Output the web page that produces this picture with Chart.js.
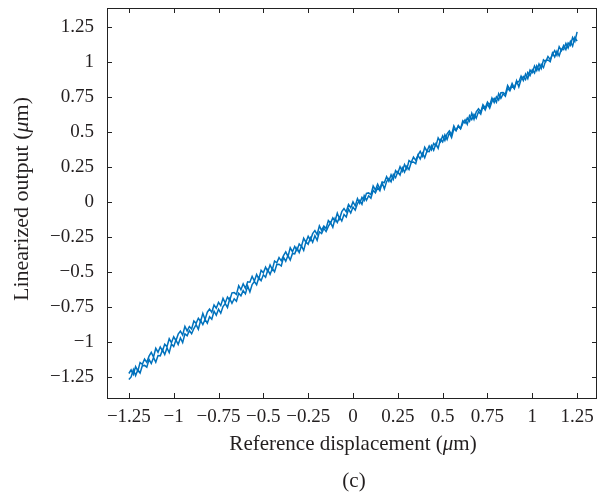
<!DOCTYPE html>
<html>
<head>
<meta charset="utf-8">
<script src="https://cdn.jsdelivr.net/npm/chart.js@4.4.1/dist/chart.umd.min.js"></script>
<style>
  html, body { margin: 0; padding: 0; background: #fff; }
</style>
</head>
<body>
<canvas id="c" width="599" height="496"></canvas>
<script>
// reference displacement (um), shared by both sweeps
const refDisp = [
  -1.25, -1.2375, -1.225, -1.2125, -1.2, -1.1875, -1.175, -1.1625,
  -1.15, -1.1375, -1.125, -1.1125, -1.1, -1.0875, -1.075, -1.0625,
  -1.05, -1.0375, -1.025, -1.0125, -1, -0.9875, -0.975, -0.9625,
  -0.95, -0.9375, -0.925, -0.9125, -0.9, -0.8875, -0.875, -0.8625,
  -0.85, -0.8375, -0.825, -0.8125, -0.8, -0.7875, -0.775, -0.7625,
  -0.75, -0.7375, -0.725, -0.7125, -0.7, -0.6875, -0.675, -0.6625,
  -0.65, -0.6375, -0.625, -0.6125, -0.6, -0.5875, -0.575, -0.5625,
  -0.55, -0.5375, -0.525, -0.5125, -0.5, -0.4875, -0.475, -0.4625,
  -0.45, -0.4375, -0.425, -0.4125, -0.4, -0.3875, -0.375, -0.3625,
  -0.35, -0.3375, -0.325, -0.3125, -0.3, -0.2875, -0.275, -0.2625,
  -0.25, -0.2375, -0.225, -0.2125, -0.2, -0.1875, -0.175, -0.1625,
  -0.15, -0.1375, -0.125, -0.1125, -0.1, -0.0875, -0.075, -0.0625,
  -0.05, -0.0375, -0.025, -0.0125, 0, 0.0125, 0.025, 0.0375,
  0.05, 0.0625, 0.075, 0.0875, 0.1, 0.1125, 0.125, 0.1375,
  0.15, 0.1625, 0.175, 0.1875, 0.2, 0.2125, 0.225, 0.2375,
  0.25, 0.2625, 0.275, 0.2875, 0.3, 0.3125, 0.325, 0.3375,
  0.35, 0.3625, 0.375, 0.3875, 0.4, 0.4125, 0.425, 0.4375,
  0.45, 0.4625, 0.475, 0.4875, 0.5, 0.5125, 0.525, 0.5375,
  0.55, 0.5625, 0.575, 0.5875, 0.6, 0.6125, 0.625, 0.6375,
  0.65, 0.6625, 0.675, 0.6875, 0.7, 0.7125, 0.725, 0.7375,
  0.75, 0.7625, 0.775, 0.7875, 0.8, 0.8125, 0.825, 0.8375,
  0.85, 0.8625, 0.875, 0.8875, 0.9, 0.9125, 0.925, 0.9375,
  0.95, 0.9625, 0.975, 0.9875, 1, 1.0125, 1.025, 1.0375,
  1.05, 1.0625, 1.075, 1.0875, 1.1, 1.1125, 1.125, 1.1375,
  1.15, 1.1625, 1.175, 1.1875, 1.2, 1.2125, 1.225, 1.2375,
  1.25
];

// linearized output (um), rising sweep (lower branch)
const upSweep = [
  -1.268, -1.249, -1.197, -1.240, -1.198, -1.221, -1.169, -1.167,
  -1.180, -1.125, -1.153, -1.111, -1.144, -1.097, -1.099, -1.057,
  -1.090, -1.043, -1.076, -1.014, -1.032, -0.985, -1.018, -0.971,
  -1.004, -0.942, -0.955, -0.918, -0.941, -0.904, -0.876, -0.909,
  -0.847, -0.875, -0.838, -0.866, -0.819, -0.837, -0.780, -0.808,
  -0.766, -0.794, -0.747, -0.725, -0.753, -0.691, -0.723, -0.691,
  -0.709, -0.652, -0.670, -0.633, -0.656, -0.599, -0.642, -0.590,
  -0.568, -0.591, -0.539, -0.562, -0.520, -0.537, -0.484, -0.517,
  -0.475, -0.498, -0.446, -0.444, -0.457, -0.395, -0.423, -0.381,
  -0.414, -0.367, -0.370, -0.328, -0.361, -0.314, -0.346, -0.284,
  -0.302, -0.255, -0.288, -0.241, -0.274, -0.212, -0.225, -0.188,
  -0.211, -0.174, -0.147, -0.180, -0.118, -0.146, -0.108, -0.136,
  -0.089, -0.107, -0.050, -0.078, -0.036, -0.058, -0.011, 0.011,
  -0.017, 0.045, 0.012, 0.045, 0.027, 0.084, 0.066, 0.103,
  0.080, 0.137, 0.094, 0.146, 0.168, 0.145, 0.197, 0.174,
  0.216, 0.193, 0.245, 0.213, 0.255, 0.232, 0.284, 0.286,
  0.273, 0.335, 0.307, 0.349, 0.316, 0.363, 0.360, 0.402,
  0.369, 0.416, 0.383, 0.446, 0.428, 0.480, 0.447, 0.494,
  0.461, 0.523, 0.510, 0.547, 0.524, 0.561, 0.588, 0.555,
  0.617, 0.589, 0.626, 0.599, 0.646, 0.628, 0.685, 0.657,
  0.699, 0.671, 0.718, 0.740, 0.712, 0.774, 0.741, 0.773,
  0.755, 0.812, 0.794, 0.832, 0.809, 0.866, 0.823, 0.875,
  0.897, 0.874, 0.926, 0.903, 0.945, 0.922, 0.974, 0.941,
  0.983, 0.960, 1.012, 1.015, 1.002, 1.064, 1.036, 1.078,
  1.045, 1.092, 1.089, 1.133, 1.100, 1.147, 1.114, 1.176,
  1.150
];

// linearized output (um), falling sweep (upper branch)
const downSweep = [
  -1.225, -1.199, -1.232, -1.175, -1.208, -1.146, -1.159, -1.122,
  -1.145, -1.101, -1.074, -1.107, -1.045, -1.073, -1.035, -1.063,
  -1.016, -1.034, -0.977, -1.005, -0.963, -0.991, -0.944, -0.922,
  -0.950, -0.888, -0.921, -0.889, -0.907, -0.850, -0.867, -0.830,
  -0.853, -0.796, -0.839, -0.787, -0.765, -0.788, -0.736, -0.759,
  -0.717, -0.740, -0.688, -0.721, -0.679, -0.702, -0.649, -0.647,
  -0.660, -0.598, -0.626, -0.584, -0.617, -0.570, -0.573, -0.531,
  -0.564, -0.517, -0.550, -0.488, -0.506, -0.465, -0.497, -0.450,
  -0.483, -0.421, -0.434, -0.397, -0.420, -0.383, -0.356, -0.389,
  -0.327, -0.355, -0.318, -0.346, -0.299, -0.317, -0.259, -0.287,
  -0.245, -0.273, -0.226, -0.204, -0.232, -0.170, -0.203, -0.171,
  -0.189, -0.132, -0.150, -0.113, -0.136, -0.079, -0.121, -0.069,
  -0.047, -0.070, -0.018, -0.041, 0.001, -0.028, 0.024, -0.009,
  0.033, 0.010, 0.062, 0.065, 0.052, 0.114, 0.086, 0.128,
  0.095, 0.142, 0.139, 0.181, 0.148, 0.195, 0.162, 0.224,
  0.206, 0.253, 0.220, 0.268, 0.235, 0.297, 0.284, 0.321,
  0.298, 0.335, 0.362, 0.329, 0.391, 0.363, 0.400, 0.372,
  0.419, 0.401, 0.458, 0.431, 0.473, 0.440, 0.487, 0.509,
  0.481, 0.543, 0.510, 0.542, 0.524, 0.581, 0.563, 0.600,
  0.577, 0.634, 0.591, 0.644, 0.666, 0.643, 0.695, 0.672,
  0.714, 0.691, 0.743, 0.710, 0.752, 0.729, 0.781, 0.783,
  0.770, 0.832, 0.804, 0.847, 0.814, 0.861, 0.858, 0.900,
  0.867, 0.914, 0.881, 0.943, 0.925, 0.972, 0.939, 0.986,
  0.953, 1.015, 1.002, 1.040, 1.017, 1.054, 1.081, 1.048,
  1.110, 1.082, 1.119, 1.089, 1.136, 1.118, 1.175, 1.147,
  1.215
];

const tickVals = [-1.25, -1, -0.75, -0.5, -0.25, 0, 0.25, 0.5, 0.75, 1, 1.25];

const lineColor = '#0072bd';
const textColor = '#231f20';
const fontFamily = '"Liberation Serif", "DejaVu Serif", serif';

function fmt(v) {
  return v < 0 ? '\u2212' + String(-v) : String(v);
}

function toPoints(ys) {
  return refDisp.map((x, i) => ({ x: x, y: ys[i] }));
}

// draws text runs like ['Reference displacement (', 'μ', 'm)'], odd runs italic
function drawRuns(ctx, runs, cx, cy, size) {
  const fonts = runs.map((r, i) => (i % 2 ? 'italic ' : '') + size + 'px ' + fontFamily);
  let total = 0;
  const widths = runs.map((r, i) => {
    ctx.font = fonts[i];
    const w = ctx.measureText(r).width;
    total += w;
    return w;
  });
  let x = cx - total / 2;
  ctx.textBaseline = 'middle';
  ctx.textAlign = 'left';
  ctx.fillStyle = textColor;
  runs.forEach((r, i) => {
    ctx.font = fonts[i];
    ctx.fillText(r, x, cy);
    x += widths[i];
  });
}

const framePlugin = {
  id: 'frame',
  afterDatasetsDraw(chart) {
    const { ctx, chartArea: a, scales } = chart;
    ctx.save();
    ctx.strokeStyle = '#222';
    ctx.lineWidth = 1;
    ctx.strokeRect(a.left + 0.5, a.top + 0.5, a.right - a.left - 1, a.bottom - a.top);
    ctx.beginPath();
    const len = 5;
    tickVals.forEach(v => {
      const px = Math.round(scales.x.getPixelForValue(v)) + 0.5;
      ctx.moveTo(px, a.bottom); ctx.lineTo(px, a.bottom - len);
      ctx.moveTo(px, a.top); ctx.lineTo(px, a.top + len);
      const py = Math.round(scales.y.getPixelForValue(v)) + 0.5;
      ctx.moveTo(a.left, py); ctx.lineTo(a.left + len, py);
      ctx.moveTo(a.right, py); ctx.lineTo(a.right - len, py);
    });
    ctx.stroke();
    ctx.restore();
  },
  afterDraw(chart) {
    const ctx = chart.ctx;
    ctx.save();
    drawRuns(ctx, ['Reference displacement (', '\u03bc', 'm)'], 353, 444, 21);
    drawRuns(ctx, ['(c)'], 354, 481, 21);
    ctx.translate(22, 199);
    ctx.rotate(-Math.PI / 2);
    drawRuns(ctx, ['Linearized output (', '\u03bc', 'm)'], 0, 0, 22);
    ctx.restore();
  }
};

const tickFont = { family: fontFamily, size: 19 };

function noPad(s) {
  s.paddingTop = 0;
  s.paddingBottom = 0;
  s.paddingLeft = 0;
  s.paddingRight = 0;
}

new Chart(document.getElementById('c'), {
  type: 'scatter',
  data: {
    datasets: [
      { data: toPoints(upSweep), showLine: true, borderColor: lineColor, borderWidth: 1.5, pointRadius: 0, tension: 0 },
      { data: toPoints(downSweep), showLine: true, borderColor: lineColor, borderWidth: 1.5, pointRadius: 0, tension: 0 }
    ]
  },
  options: {
    responsive: false,
    animation: false,
    layout: { padding: { top: 8, right: 2, left: 0, bottom: 0 } },
    plugins: { legend: { display: false }, tooltip: { enabled: false } },
    scales: {
      x: {
        type: 'linear',
        min: -1.372,
        max: 1.361,
        afterBuildTicks: s => { s.ticks = tickVals.map(v => ({ value: v })); },
        afterFit: s => { s.height = 98; noPad(s); },
        grid: { display: false, drawTicks: false },
        border: { display: false },
        ticks: { font: tickFont, color: textColor, padding: 8, maxRotation: 0, autoSkip: false, callback: v => fmt(v) }
      },
      y: {
        type: 'linear',
        min: -1.4,
        max: 1.386,
        afterBuildTicks: s => { s.ticks = tickVals.map(v => ({ value: v })); },
        afterFit: s => { s.width = 107; noPad(s); },
        grid: { display: false, drawTicks: false },
        border: { display: false },
        ticks: { font: tickFont, color: textColor, padding: 13, autoSkip: false, callback: v => fmt(v) }
      }
    }
  },
  plugins: [framePlugin]
});
</script>
</body>
</html>
